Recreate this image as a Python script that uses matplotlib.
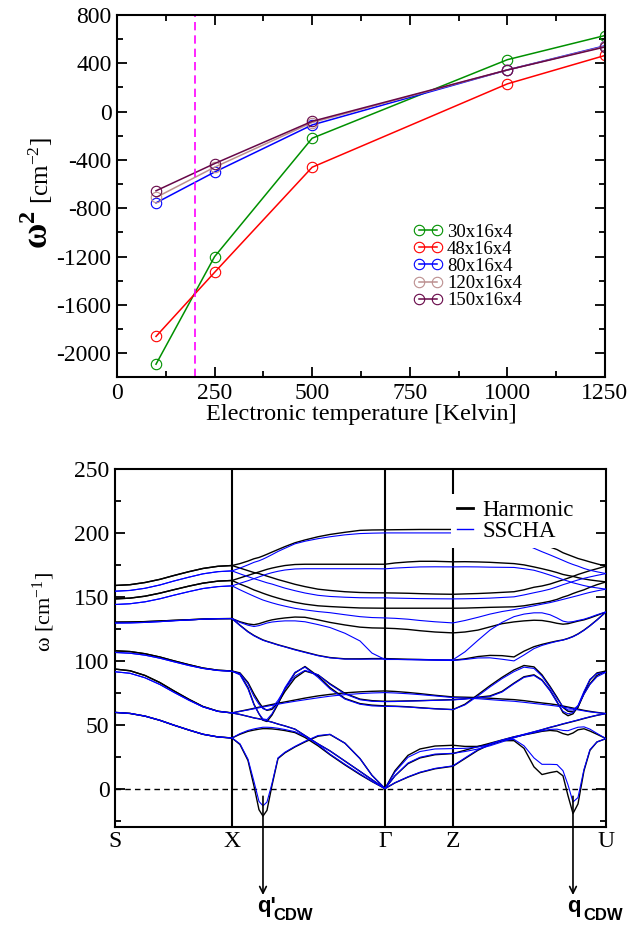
import numpy as np
import matplotlib.pyplot as plt
from matplotlib.ticker import MultipleLocator

plt.rcParams['font.family'] = ['Liberation Serif', 'DejaVu Serif']
plt.rcParams['mathtext.fontset'] = 'custom'
plt.rcParams['mathtext.rm'] = 'Liberation Serif'
plt.rcParams['mathtext.it'] = 'Liberation Serif:italic'
plt.rcParams['mathtext.bf'] = 'Liberation Serif:bold'
plt.rcParams['axes.unicode_minus'] = False

# ---------------- top panel data ----------------
temps = [100, 250, 500, 1000, 1250]
w2_30 = [-2090, -1200, -220, 430, 630]
w2_48 = [-1860, -1330, -460, 230, 465]
w2_80 = [-755, -500, -110, 345, 545]
w2_120 = [-710, -460, -90, 345, 540]
w2_150 = [-655, -430, -80, 345, 535]
grid_names = ['30x16x4', '48x16x4', '80x16x4', '120x16x4', '150x16x4']
grid_colors = ['#009000', '#ff0000', '#0000ff', '#bc8f8f', '#670748']
t_cross = 200

# ---------------- bottom panel data ----------------
# path distance along S-X-G-Z-U
kpath = [0, 15, 30, 45, 59, 74, 88, 103, 117, 125, 133, 139, 144, 148, 152, 157, 163, 170, 180, 190,
         203, 215, 230, 245, 257, 270, 280, 293, 305, 320, 338, 350, 363, 375, 387,
         399, 409, 419, 427, 435, 442, 448, 453, 458, 463, 469, 475, 482, 491]
klabels = ['S', 'X', 'Γ', 'Z', 'U']
kticks = [0, 117, 270, 338, 491]

harm_A = [158.9, 159.5, 161.2, 163.7, 166.7, 169.7, 172.2, 173.9, 174.5, 176, 178, 179.8, 180.8, 182, 183.3, 185, 187, 189.3, 192.3, 194.5, 197, 198.8, 200.5, 202, 202.3, 202.4,
          202.5, 202.6, 202.7, 202.7, 202.7, 202.7, 202.5, 202, 201, 199.5, 197.5, 194.5, 191.3, 189, 187, 184.5, 183, 181.5, 180, 178.7, 177.3, 175.8, 174]
ssc_A = [154.4, 155, 156.7, 159.3, 162.4, 165.4, 168, 169.7, 170.3, 172.5, 175, 177, 178.2, 179.5, 181, 183, 185.5, 188, 191.5, 193.5, 195.5, 197, 198.5, 199.5, 199.8, 200,
         200, 200, 200, 200, 200, 200, 200, 199.5, 198, 195, 191.5, 188, 185.3, 182.8, 180.5, 178.5, 176.8, 175.3, 174, 172.2, 170.8, 169.6, 168.2]
harm_C = [158.9, 159.5, 161.2, 163.7, 166.7, 169.7, 172.2, 173.9, 174.5, 172.5, 170.5, 169, 168.2, 167.2, 166.2, 165, 163.5, 162, 159.8, 158, 156, 155, 154, 153.4, 153.2, 153.1,
          153, 152.8, 152.5, 152.2, 152, 152.3, 152.6, 153, 153.5, 154, 155.5, 157.5, 158.5, 160, 161.8, 163.3, 164.6, 166, 167.5, 169, 170.5, 172, 174]
ssc_C = [154.4, 155, 156.7, 159.3, 162.4, 165.4, 168, 169.7, 170.3, 168, 165.8, 164.2, 163, 162, 161, 160, 158.5, 156.8, 154.8, 153, 151.2, 150.3, 149.7, 149.3, 149.2, 149.2,
         149, 148.8, 148.6, 148.5, 148.4, 148.5, 148.7, 149, 149.5, 150, 151.5, 153.2, 154.5, 156, 157.8, 159.5, 160.7, 162, 163.2, 164.5, 165.6, 166.8, 168.2]
harm_B = [148.4, 149, 150.5, 152.9, 155.6, 158.4, 160.7, 162.3, 162.8, 164.8, 166.8, 168.3, 169.5, 170.5, 171.5, 172.5, 173.5, 174.5, 175.3, 175.5, 175.5, 175.5, 175.5, 175.5, 175.5, 175.5,
          176.5, 177.3, 177.8, 177.8, 177.4, 177.5, 177.3, 177, 176.5, 176, 175, 173.4, 172, 170.5, 169, 167.5, 166.7, 166, 165, 164, 163.2, 162.5, 161.7]
ssc_B = [144, 144.6, 146.1, 148.5, 151.3, 154.1, 156.5, 158, 158.6, 160.6, 162.6, 164.2, 165.6, 166.7, 167.8, 168.9, 170, 171, 171.8, 172, 172, 172, 172, 172, 172, 171.9,
         172.5, 173, 173.4, 173.5, 173.4, 173.5, 173.4, 173.2, 173.1, 173, 172, 170.8, 169, 167, 165.2, 163.5, 162.3, 161, 160, 158.8, 157.8, 157, 156]
harm_D = [148.4, 149, 150.5, 152.9, 155.6, 158.4, 160.7, 162.3, 162.8, 160, 157.5, 155.4, 154, 152.8, 151.7, 150.4, 149, 147.5, 145.7, 144.3, 143, 142.4, 141.8, 141.3, 141.2, 141.1,
          141.1, 141.1, 141.1, 141.1, 141.1, 141.2, 141.5, 141.8, 142, 142.2, 143, 144.3, 145.3, 146.5, 148, 149.8, 151, 152.6, 154, 155.5, 157.5, 159.5, 161.7]
ssc_D = [144, 144.6, 146.1, 148.5, 151.3, 154.1, 156.5, 158, 158.6, 155.5, 152.6, 150.5, 148.8, 147.5, 146.5, 145.3, 144, 142.7, 141, 139.8, 138.5, 137.6, 136, 134.5, 133.8, 133.5,
         133.2, 132.5, 131.5, 130.5, 129.6, 131.5, 134, 136.5, 138.5, 140, 141.5, 143, 144.3, 145.5, 146.8, 148, 149, 150, 151, 152.3, 153.5, 154.7, 156]
harm_H = [130.2, 130.3, 130.6, 131.1, 131.6, 132.1, 132.6, 132.9, 133, 130.5, 128.8, 128.2, 129, 130, 131, 132, 132.8, 133.5, 134.2, 134, 132, 130, 128, 126.3, 125.7, 125.5,
          125.2, 124.5, 123.5, 122.5, 121.8, 122.5, 124, 126.5, 129, 130.4, 131.2, 131.7, 131.5, 130.5, 129.3, 128.6, 129, 130, 131, 132, 133.5, 135.5, 138.2]
ssc_H = [129.5, 129.6, 130, 130.6, 131.3, 131.9, 132.5, 132.9, 133, 130, 127.8, 126.8, 127.5, 128.5, 129.5, 130.3, 130.8, 131.2, 131.2, 130.5, 128.3, 126, 121.5, 115.5, 106, 101,
         101, 101, 101, 100.8, 100.8, 107, 116, 124, 130, 134.5, 136.5, 137.5, 137.5, 136, 133.5, 131, 130.2, 130.6, 131.5, 132.5, 134, 136, 138.2]
harm_G = [130.2, 130.3, 130.6, 131.1, 131.6, 132.1, 132.6, 132.9, 133, 127.8, 122.8, 119.8, 117.8, 116.3, 115.2, 114, 112.5, 111, 108.8, 106.8, 104.2, 102.5, 101.5, 101.5, 101.7, 101.7,
          101.5, 101.2, 101, 100.7, 100.4, 101.5, 103.3, 104.2, 104, 103, 107.5, 111, 112.8, 114.3, 115.5, 116.3, 117.5, 119, 121, 124, 127.5, 132, 138.2]
ssc_G = [129.5, 129.6, 130, 130.6, 131.3, 131.9, 132.5, 132.9, 133, 127.5, 122.5, 119.5, 117.5, 116, 115, 113.8, 112.3, 110.8, 108.5, 106.5, 104, 102.3, 101.3, 101.2, 101.3, 101.3,
         101.1, 100.8, 100.6, 100.4, 100.2, 101, 102.2, 102.3, 101.2, 99.9, 104.5, 109.5, 112, 113.8, 115.2, 116.2, 117.3, 118.8, 120.8, 123.8, 127.3, 131.8, 138.2]
harm_E1 = [107.8, 107.2, 105.5, 102.9, 99.9, 96.9, 94.3, 92.6, 92, 89.5, 79, 66, 58.5, 53.5, 52.5, 57.5, 66, 78, 90.5, 95.5, 88, 79, 70.5, 66.5, 65.3, 64.7,
           64.5, 64, 63.3, 62.5, 61.8, 66, 73.5, 80.5, 87, 92.8, 96.3, 95.2, 89, 80, 71.5, 63.5, 60.5, 60, 63.5, 75, 85, 90.5, 92]
ssc_E1 = [106.5, 105.9, 104.4, 102, 99.2, 96.3, 94, 92.4, 91.8, 89, 78, 65.5, 58.5, 54.5, 54, 58.5, 67, 79, 91, 95, 87, 78, 70, 66, 64.7, 64.3,
          64.2, 63.8, 63.1, 62.4, 61.8, 65.5, 72.5, 79.5, 86, 91.5, 95, 94, 88, 79, 70.5, 64, 61.5, 61.5, 65, 76, 85.5, 90, 91]
harm_E2 = [107.8, 107.2, 105.5, 102.9, 99.9, 96.9, 94.3, 92.6, 92, 90.5, 83, 74, 67.5, 63, 61.2, 62, 67, 76, 86.5, 92, 89, 82, 74.5, 70, 68.8, 68.3,
           68.4, 68.6, 68.8, 69.2, 69.6, 70.3, 71.5, 72.5, 76, 82.5, 87.5, 89, 85, 77, 68, 59.5, 57, 58.5, 64, 74, 82, 88.5, 92]
ssc_E2 = [106.5, 105.9, 104.4, 102, 99.2, 96.3, 94, 92.4, 91.8, 90, 82, 72, 66, 62.5, 61.5, 63, 69, 78, 88, 92.5, 89, 81.5, 74, 69.5, 68.3, 68,
          68.1, 68.4, 68.7, 69, 69.4, 70, 71, 72, 75.5, 82, 87, 88.5, 84.5, 76.5, 67.5, 60.5, 58.5, 59.5, 64.5, 74, 81.5, 87.5, 91]
harm_Dd = [93.5, 92.2, 88.5, 82.9, 76.4, 69.8, 64.2, 60.5, 59.2, 60.5, 61.8, 62.8, 63.7, 64.3, 65, 65.8, 66.8, 67.8, 69.3, 70.8, 72.5, 73.7, 74.9, 75.7, 76.1, 76.4,
           76, 75.2, 74.3, 73, 71.7, 71.5, 71.2, 70.7, 70.1, 69.6, 68.8, 67.8, 67, 66.3, 65.5, 64.6, 63.8, 63, 62.2, 61.2, 60.4, 59.6, 58.7]
ssc_Dd = [91.4, 90.2, 86.7, 81.4, 75.3, 69.1, 63.9, 60.4, 59.2, 60.4, 61.5, 62.4, 63.2, 63.8, 64.4, 65.1, 66, 67, 68.3, 69.5, 71, 72.3, 73.5, 74.3, 74.8, 75.1,
          74.8, 74.2, 73.5, 72.5, 71.2, 70.8, 70.3, 69.6, 68.9, 68.3, 67.5, 66.6, 65.9, 65.2, 64.5, 63.8, 63.1, 62.4, 61.6, 60.8, 60, 59.4, 58.7]
harm_Ac1 = [93.5, 92.2, 88.5, 82.9, 76.4, 69.8, 64.2, 60.5, 59.2, 58, 56.5, 55.3, 54.6, 53.8, 53, 52, 50.5, 49, 46.5, 41.5, 35, 29.5, 21.5, 13.5, 7, 0,
            4.5, 9, 12.5, 15.5, 17.5, 23.5, 30, 34.5, 37.5, 40, 42.2, 44.3, 46, 47.8, 49.2, 50.5, 51.5, 52.5, 53.5, 54.8, 56, 57.3, 58.7]
ssc_Ac1 = [91.4, 90.2, 86.7, 81.4, 75.3, 69.1, 63.9, 60.4, 59.2, 58, 56.5, 55.3, 54.6, 53.8, 53, 52, 50.5, 49, 46.5, 41.5, 35, 29.5, 21.5, 13.5, 7, 0,
           4.6, 9.2, 12.8, 15.8, 17.8, 24, 30.5, 35, 38, 40.5, 42.5, 44.5, 46.2, 48, 49.4, 50.7, 51.7, 52.7, 53.7, 55, 56.2, 57.4, 58.7]
harm_Ac2 = [59.6, 58.8, 56.7, 53.4, 49.6, 45.8, 42.5, 40.4, 39.6, 42.5, 44.8, 45.8, 46.5, 46.9, 46.9, 46.7, 46.2, 45.4, 43.8, 40, 33.5, 26.5, 18.5, 11, 5.5, 0,
            14, 26, 31, 33.3, 33.9, 33, 33, 34.5, 37.5, 37.5, 31.5, 17, 11, 12.5, 13.5, 10, -5.5, -19.5, -12, 14, 30, 36.5, 39.1]
ssc_Ac2 = [59.6, 58.8, 56.7, 53.4, 49.6, 45.8, 42.5, 40.4, 39.6, 43, 45.5, 46.7, 47.5, 48, 48, 47.8, 47.2, 46.2, 44.5, 41, 34.5, 27, 19, 11.5, 5.7, 0,
           13, 24.5, 29, 31, 31.3, 31.5, 32.5, 34.5, 37.8, 38.5, 33.5, 24, 19, 19, 18.8, 14, 3, -10.5, -7, 15, 30.5, 36.5, 39.1]
harm_Soft = [59.6, 58.8, 56.7, 53.4, 49.6, 45.8, 42.5, 40.4, 39.6, 34.5, 22, 2, -16.5, -21.5, -17, 2.5, 23.5, 28, 32.6, 36.5, 41, 42.3, 35.5, 23.5, 10.4, 0,
             10, 19.5, 24, 26.5, 27.4, 30, 33, 35.5, 38, 40.5, 42, 43.5, 44.8, 45.5, 45, 43, 42, 43.5, 46, 46.8, 45, 42.5, 39.1]
ssc_Soft = [59.6, 58.8, 56.7, 53.4, 49.6, 45.8, 42.5, 40.4, 39.6, 35, 23, 5.5, -10, -13.5, -10.5, 4, 24, 28.5, 33, 37, 41.5, 42.5, 35.5, 23.5, 10.4, 0,
            10, 20, 24.5, 27, 27.6, 29, 31, 33.5, 36.5, 39.8, 42, 43.8, 45.2, 46.3, 46.5, 45.5, 45.3, 46.7, 48, 48.3, 46.5, 43.2, 39.1]

harmonic = [harm_A, harm_B, harm_C, harm_D, harm_H, harm_G, harm_E1, harm_E2,
            harm_Dd, harm_Ac1, harm_Ac2, harm_Soft]
sscha = [ssc_A, ssc_B, ssc_C, ssc_D, ssc_H, ssc_G, ssc_E1, ssc_E2,
         ssc_Dd, ssc_Ac1, ssc_Ac2, ssc_Soft]

fig = plt.figure(figsize=(6.42, 9.3), dpi=100)

# ---------------- top panel ----------------
ax1 = fig.add_axes([0.1822, 0.5941, 0.7601, 0.3898])
series = [w2_30, w2_48, w2_80, w2_120, w2_150]
for vals, name, col in zip(series, grid_names, grid_colors):
    ax1.plot(temps, vals, '-o', color=col, lw=1.1, ms=7.5, mfc='none',
             mec=col, mew=0.8, label=name)
ax1.axvline(t_cross, color='#ff00ff', lw=1.2, ls=(0, (5, 3)))
ax1.set_xlim(0, 1250)
ax1.set_ylim(-2200, 800)
ax1.xaxis.set_major_locator(MultipleLocator(250))
ax1.xaxis.set_minor_locator(MultipleLocator(125))
ax1.yaxis.set_major_locator(MultipleLocator(400))
ax1.yaxis.set_minor_locator(MultipleLocator(200))
ax1.tick_params(which='both', direction='in', top=True, right=True, labelsize=17, width=1.3, pad=4)
ax1.tick_params(which='major', length=7)
ax1.tick_params(which='minor', length=4)
for s in ax1.spines.values():
    s.set_linewidth(1.5)
ax1.set_xlabel('Electronic temperature [Kelvin]', fontsize=17.5, labelpad=0)
# y label: big bold omega squared, then the unit
fig.text(40 / 642, 1 - 249 / 930, r'$\mathbf{\omega}^{\mathbf{2}}$', rotation=90,
         fontsize=25, ha='center', va='bottom')
fig.text(41 / 642, 1 - 204 / 930, r'[cm$^{-2}$]', rotation=90,
         fontsize=18, ha='center', va='bottom')
ax1.legend(loc='upper left', bbox_to_anchor=(0.5996, 0.4348), frameon=False,
           fontsize=13.5, numpoints=2, handlelength=1.56, handletextpad=0.24,
           labelspacing=0.0, borderpad=0.2, borderaxespad=0)

# ---------------- bottom panel ----------------
ax2 = fig.add_axes([0.1791, 0.1108, 0.7648, 0.3849])
for band in harmonic:
    ax2.plot(kpath, band, color='black', lw=1.0, zorder=3)
for band in sscha:
    ax2.plot(kpath, band, color='#0000ff', lw=0.8, zorder=3)
ax2.plot([], [], color='black', lw=2.0, label='Harmonic')
ax2.plot([], [], color='#0000ff', lw=1.0, label='SSCHA')
for kv in kticks[1:-1]:
    ax2.axvline(kv, color='black', lw=1.5, zorder=2)
ax2.axhline(0, color='black', lw=1.0, ls=(0, (4, 3)), zorder=2)
ax2.set_xlim(kticks[0], kticks[-1])
ax2.set_ylim(-30, 250)
ax2.set_xticks(kticks)
ax2.set_xticklabels(klabels)
ax2.yaxis.set_major_locator(MultipleLocator(50))
ax2.yaxis.set_minor_locator(MultipleLocator(25))
ax2.tick_params(axis='y', which='both', direction='in', right=True, labelsize=17, width=1.3, pad=4)
ax2.tick_params(axis='y', which='major', length=7)
ax2.tick_params(axis='y', which='minor', length=4)
ax2.tick_params(axis='x', length=0, labelsize=17, pad=3)
for s in ax2.spines.values():
    s.set_linewidth(1.5)
ax2.set_ylabel(r'$\mathrm{\omega}$ [cm$^{-1}$]', fontsize=16)
ax2.yaxis.set_label_coords(-0.118, 0.60)
leg = ax2.legend(loc='upper left', bbox_to_anchor=(0.685, 0.929), frameon=True,
                 fontsize=16.5, handlelength=0.7, handletextpad=0.4,
                 labelspacing=0.0, borderpad=0.25, borderaxespad=0, fancybox=False)
leg.get_frame().set_facecolor('white')
leg.get_frame().set_edgecolor('none')
leg.get_frame().set_alpha(1)

# CDW wave vectors: minima of the soft branches on X-G and Z-U
kp = np.array(kpath)
i1 = np.argmin(np.where(kp < kticks[2], harm_Soft, 999))
i2 = np.argmin(np.where(kp > kticks[3], harm_Ac2, 999))
for kq, prime in [(kp[i1], "'"), (kp[i2], '')]:
    ax2.annotate('', xy=(kq, 35), xycoords=('data', 'figure pixels'),
                 xytext=(kq, -6), textcoords='data',
                 arrowprops=dict(arrowstyle='->', lw=1.2, color='black',
                                 shrinkA=0, shrinkB=0, mutation_scale=12),
                 annotation_clip=False)
    ax2.annotate('q' + prime, xy=(kq, 18), xycoords=('data', 'figure pixels'),
                 xytext=(-6, 0), textcoords='offset pixels', ha='left', va='baseline',
                 fontfamily='Liberation Sans', fontweight='bold', fontsize=16,
                 annotation_clip=False)
    ax2.annotate('CDW', xy=(kq, 10), xycoords=('data', 'figure pixels'),
                 xytext=(10, 0), textcoords='offset pixels', ha='left', va='baseline',
                 fontfamily='Liberation Sans', fontweight='bold', fontsize=12,
                 annotation_clip=False)

fig.savefig('out.png', dpi=100)
